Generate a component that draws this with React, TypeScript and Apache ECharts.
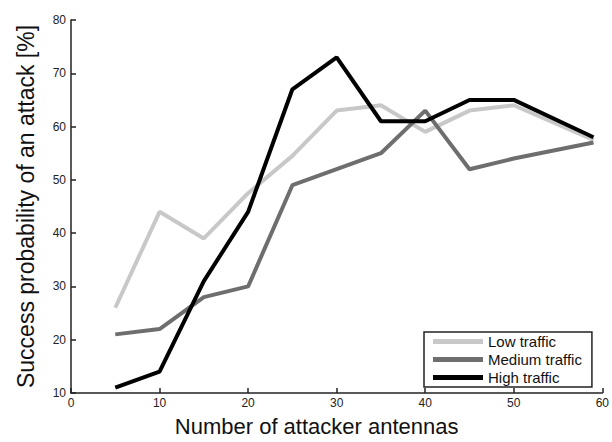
import React, { useEffect, useRef } from "react";
import * as echarts from "echarts";

const xValues = [5, 10, 15, 20, 25, 30, 35, 40, 45, 50, 59];
const lowTraffic = [26, 44, 39, 47.5, 54.5, 63, 64, 59, 63, 64, 57.5];
const mediumTraffic = [21, 22, 28, 30, 49, 52, 55, 63, 52, 54, 57];
const highTraffic = [11, 14, 31, 44, 67, 73, 61, 61, 65, 65, 58];
const seriesNames = ["Low traffic", "Medium traffic", "High traffic"];
const seriesColors = ["#c8c8c8", "#6e6e6e", "#000000"];

const FONT = "Liberation Sans, Arial, sans-serif";

export default function App() {
  const ref = useRef<HTMLDivElement>(null);
  useEffect(() => {
    if (!ref.current) return;
    const chart = echarts.init(ref.current, undefined, { renderer: "svg" });
    const allData = [lowTraffic, mediumTraffic, highTraffic];
    chart.setOption({
      animation: false,
      backgroundColor: "#ffffff",
      grid: { left: 71, right: 4, top: 20, bottom: 43, containLabel: false },
      legend: {
        orient: "vertical",
        left: 424,
        top: 332,
        data: seriesNames,
        icon: "rect",
        itemWidth: 50,
        itemHeight: 5,
        itemGap: 3,
        padding: [2, 10, 2, 9],
        borderColor: "#222",
        borderWidth: 1.5,
        backgroundColor: "#fff",
        textStyle: { fontFamily: FONT, fontSize: 15, color: "#111" },
      },
      xAxis: {
        type: "value",
        min: 0,
        max: 60,
        interval: 10,
        name: "Number of attacker antennas",
        nameLocation: "middle",
        nameGap: 22,
        nameTextStyle: { fontFamily: FONT, fontSize: 22, color: "#111", padding: [0, 40, 0, 0] },
        axisLine: { show: true, lineStyle: { color: "#222", width: 1.5 } },
        axisTick: { show: true, inside: true, length: 5, lineStyle: { color: "#222", width: 1.5 } },
        axisLabel: { fontFamily: FONT, fontSize: 12, color: "#222", margin: 4 },
        splitLine: { show: false },
      },
      yAxis: {
        type: "value",
        min: 10,
        max: 80,
        interval: 10,
        name: "Success probability of an attack [%]",
        nameLocation: "middle",
        nameGap: 34,
        nameTextStyle: { fontFamily: FONT, fontSize: 23, color: "#111" },
        axisLine: { show: true, lineStyle: { color: "#222", width: 1.5 } },
        axisTick: { show: true, inside: true, length: 5, lineStyle: { color: "#222", width: 1.5 } },
        axisLabel: { fontFamily: FONT, fontSize: 12, color: "#222", margin: 5 },
        splitLine: { show: false },
      },
      series: seriesNames.map((name, i) => ({
        name,
        type: "line",
        data: xValues.map((x, j) => [x, allData[i][j]]),
        showSymbol: false,
        symbol: "none",
        color: seriesColors[i],
        lineStyle: { color: seriesColors[i], width: 4 },
        z: 2 + i,
      })),
    });
    return () => chart.dispose();
  }, []);
  return (
    <div
      ref={ref}
      style={{ position: "fixed", left: 0, top: 0, width: 612, height: 442 }}
    />
  );
}
